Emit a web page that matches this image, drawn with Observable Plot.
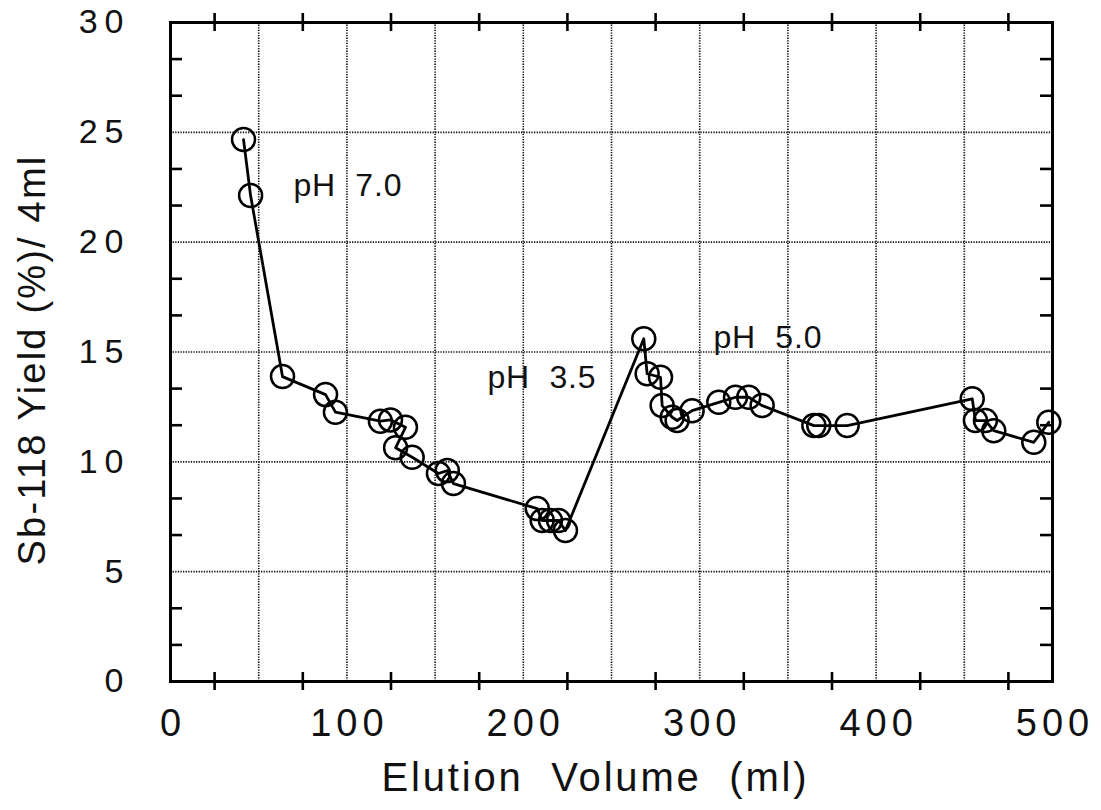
<!DOCTYPE html>
<html>
<head>
<meta charset="utf-8">
<script src="https://cdn.jsdelivr.net/npm/d3@7"></script>
<script src="https://cdn.jsdelivr.net/npm/@observablehq/plot@0.6"></script>
<style>
  html, body { margin: 0; padding: 0; background: #fff; }
  #chart svg { display: block; font-family: "Liberation Sans", Arial, Helvetica, sans-serif; }
</style>
</head>
<body>
<div id="chart"></div>
<script>
// Elution volume (ml) and Sb-118 yield (%) per 4 ml fraction, in plotting order
const volume = [41.4, 45.4, 63.5, 87.9, 93.5, 119.0, 124.7, 133.2, 127.6, 137.0, 151.9, 156.9, 160.4,
  207.9, 210.7, 215.4, 220.0, 223.9, 268.3, 270.2, 277.8, 278.7, 284.4, 287.2, 295.7, 310.8, 320.3,
  327.8, 335.4, 364.7, 367.5, 383.6, 454.5, 456.3, 462.0, 466.7, 489.4, 497.9];
const yieldPct = [24.67, 22.12, 13.88, 13.06, 12.26, 11.85, 11.91, 11.57, 10.64, 10.21, 9.47, 9.60, 9.01,
  7.87, 7.33, 7.33, 7.33, 6.87, 15.60, 14.01, 13.85, 12.56, 12.03, 11.88, 12.33, 12.71, 12.94,
  12.94, 12.56, 11.65, 11.65, 11.65, 12.87, 11.88, 11.88, 11.42, 10.89, 11.80];

// Annotations
const noteText = ["pH\u00a0\u00a07.0", "pH\u00a0\u00a03.5", "pH\u00a0\u00a05.0"];
const noteX = [69.7, 179.7, 307.8];
const noteY = [22.58, 13.84, 15.66];

// Axes
const xLabelTicks = [0, 100, 200, 300, 400, 500];
const xGridTicks = [50, 100, 150, 200, 250, 300, 350, 400, 450];
const xMinorTicks = [25, 75, 125, 175, 225, 275, 325, 375, 425, 475];
const yLabelTicks = [0, 5, 10, 15, 20, 25, 30];
const yGridTicks = [5, 10, 15, 20, 25];
const yMinorTicks = [5/3, 10/3, 20/3, 25/3, 35/3, 40/3, 50/3, 55/3, 65/3, 70/3, 80/3, 85/3];
const xTitle = "Elution\u00a0 Volume\u00a0 (ml)";
const yTitle = "Sb-118 Yield (%)/ 4ml";

const data = volume.map((v, i) => ({volume: v, yield: yieldPct[i]}));
const notes = noteText.map((t, i) => ({t, x: noteX[i], y: noteY[i]}));

const W = 1101, H = 810;
const mL = 170, mR = 49, mT = 22, mB = 129;
const pxPerX = (W - mL - mR) / 500;
const pxPerY = (H - mT - mB) / 30;
const xTickHalf = 9 / pxPerY;     // half-length of crossing x ticks, in y units
const yTickLen = 12 / pxPerX;     // length of inward y ticks, in x units

const gridStyle = {stroke: "#111", strokeOpacity: 1, strokeWidth: 1.6, strokeDasharray: "1.3,1.3"};

const chart = Plot.plot({
  width: W, height: H,
  marginLeft: mL, marginRight: mR, marginTop: mT, marginBottom: mB,
  x: {domain: [0, 500]},
  y: {domain: [0, 30]},
  marks: [
    Plot.gridX(xGridTicks, gridStyle),
    Plot.gridY(yGridTicks, gridStyle),
    // crossing ticks on top and bottom
    Plot.ruleX(xMinorTicks, {y1: -xTickHalf, y2: xTickHalf, stroke: "black", strokeWidth: 2.6}),
    Plot.ruleX(xMinorTicks, {y1: 30 - xTickHalf, y2: 30 + xTickHalf, stroke: "black", strokeWidth: 2.6}),
    // inward ticks on left and right
    Plot.ruleY(yMinorTicks, {x1: 0, x2: yTickLen, stroke: "black", strokeWidth: 2.6}),
    Plot.ruleY(yMinorTicks, {x1: 500 - yTickLen, x2: 500, stroke: "black", strokeWidth: 2.6}),
    Plot.frame({stroke: "black", strokeWidth: 3}),
    Plot.axisX(xLabelTicks, {anchor: "bottom", tickSize: 0, tickPadding: 28, fontSize: 38, label: null, tickFormat: d => String(d)}),
    Plot.axisY(yLabelTicks, {anchor: "left", tickSize: 0, tickPadding: 40, fontSize: 34, label: null, tickFormat: d => String(d)}),
    Plot.text([xTitle], {frameAnchor: "bottom", lineAnchor: "middle", textAnchor: "middle", dx: -16, dy: 97, fontSize: 40, fill: "#111"}),
    Plot.text([yTitle], {frameAnchor: "left", rotate: -90, textAnchor: "middle", lineAnchor: "middle", dx: -138, dy: 8, fontSize: 38, fill: "#111"}),
    Plot.line(data, {x: "volume", y: "yield", stroke: "black", strokeWidth: 2.8}),
    Plot.dot(data, {x: "volume", y: "yield", r: 11.5, stroke: "black", strokeWidth: 2.5, fill: "none"}),
    Plot.text(notes, {x: "x", y: "y", text: "t", textAnchor: "start", fontSize: 32, fill: "#111"})
  ]
});

document.getElementById("chart").appendChild(chart);

// letter spacing like the original typesetting
const svg = d3.select(chart);
svg.selectAll('[aria-label="x-axis tick label"] text').attr("letter-spacing", "5px").attr("dx", "2.5px").attr("fill", "#111");
svg.selectAll('[aria-label="y-axis tick label"] text').attr("letter-spacing", "7px").attr("fill", "#111");
svg.selectAll("text").each(function() {
  const t = this.textContent;
  if (t === xTitle) this.setAttribute("letter-spacing", "2.8px");
  else if (t === yTitle) this.setAttribute("letter-spacing", "2.2px");
  else if (noteText.includes(t)) this.setAttribute("letter-spacing", "0.8px");
});
</script>
</body>
</html>
